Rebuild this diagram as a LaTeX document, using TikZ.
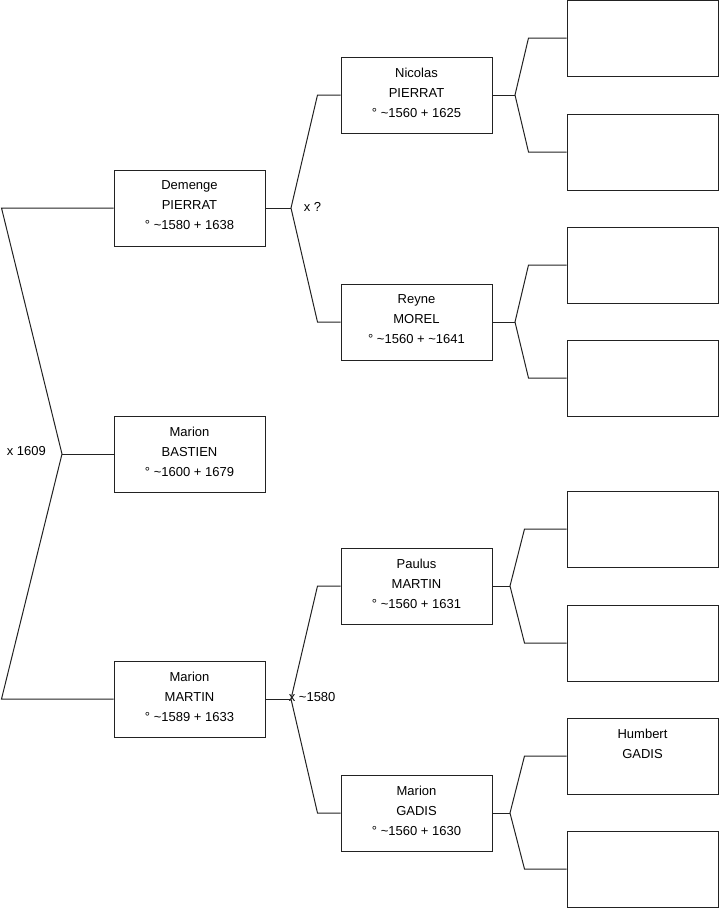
\documentclass[tikz,border=0pt]{standalone}
\usepackage{fontspec}
\setmainfont{Liberation Sans}
\usetikzlibrary{calc,positioning}
\definecolor{trait}{HTML}{222222}

\begin{document}
\begin{tikzpicture}[x=1pt,y=-1pt,line width=1pt,every node/.style={font=\fontsize{13}{20}\selectfont,align=center},fiche/.style={draw=trait,minimum width=151pt,minimum height=76pt,inner sep=0pt,text depth=5pt},lien/.style={draw=trait,line join=miter}]
\useasboundingbox (0,0) rectangle (719,908);
% generation 1
\node[fiche] (dp) at (189.5,208) {Demenge\\PIERRAT\\° \textasciitilde1580 + 1638};
\node[fiche] (mb) at (189.5,454) {Marion\\BASTIEN\\° \textasciitilde1600 + 1679};
\node[fiche] (mm) at (189.5,699) {Marion\\MARTIN\\° \textasciitilde1589 + 1633};
% generation 2
\node[fiche] (np) at (416.5,95) {Nicolas\\PIERRAT\\° \textasciitilde1560 + 1625};
\node[fiche] (rm) at (416.5,322) {Reyne\\MOREL\\° \textasciitilde1560 + \textasciitilde1641};
\node[fiche] (pm) at (416.5,586) {Paulus\\MARTIN\\° \textasciitilde1560 + 1631};
\node[fiche] (mg) at (416.5,813) {Marion\\GADIS\\° \textasciitilde1560 + 1630};
% generation 3
\node[fiche] (g1) at (642.5,38) {};
\node[fiche] (g2) at (642.5,152) {};
\node[fiche] (g3) at (642.5,265) {};
\node[fiche] (g4) at (642.5,378) {};
\node[fiche] (g5) at (642.5,529) {};
\node[fiche] (g6) at (642.5,643) {};
\node[fiche] (g7) at (642.5,756) {Humbert\\GADIS\\~};
\node[fiche] (g8) at (642.5,869) {};
% jonctions
\coordinate (j0) at (62,454);
\coordinate (ja) at (291,208);
\coordinate (jb) at (291,699);
\coordinate (j1) at (515,95);
\coordinate (j2) at (515,322);
\coordinate (j3) at (510,586);
\coordinate (j4) at (510,813);
% unions
\node[anchor=west] (u0) at (3,451) {x 1609};
\node[anchor=west] (ua) at (300,207) {x ?};
\node[anchor=west] (ub) at (285,697) {x \textasciitilde1580};
% liens
\draw[lien] (dp.west) -- ++(-112,0) -- (j0) -- ($(mm.west)+(-112,0)$) -- (mm.west);
\draw[lien] (j0) -- (mb.west);
\draw[lien] (dp.east) -- (ja);
\draw[lien] (np.west) -- ++(-23,0) -- (ja) -- ($(rm.west)+(-23,0)$) -- (rm.west);
\draw[lien] (mm.east) -- (jb);
\draw[lien] (pm.west) -- ++(-23,0) -- (jb) -- ($(mg.west)+(-23,0)$) -- (mg.west);
\draw[lien] (np.east) -- (j1);
\draw[lien] (g1.west) -- ++(-38,0) -- (j1) -- ($(g2.west)+(-38,0)$) -- (g2.west);
\draw[lien] (rm.east) -- (j2);
\draw[lien] (g3.west) -- ++(-38,0) -- (j2) -- ($(g4.west)+(-38,0)$) -- (g4.west);
\draw[lien] (pm.east) -- (j3);
\draw[lien] (g5.west) -- ++(-42,0) -- (j3) -- ($(g6.west)+(-42,0)$) -- (g6.west);
\draw[lien] (mg.east) -- (j4);
\draw[lien] (g7.west) -- ++(-42,0) -- (j4) -- ($(g8.west)+(-42,0)$) -- (g8.west);
\end{tikzpicture}
\end{document}
